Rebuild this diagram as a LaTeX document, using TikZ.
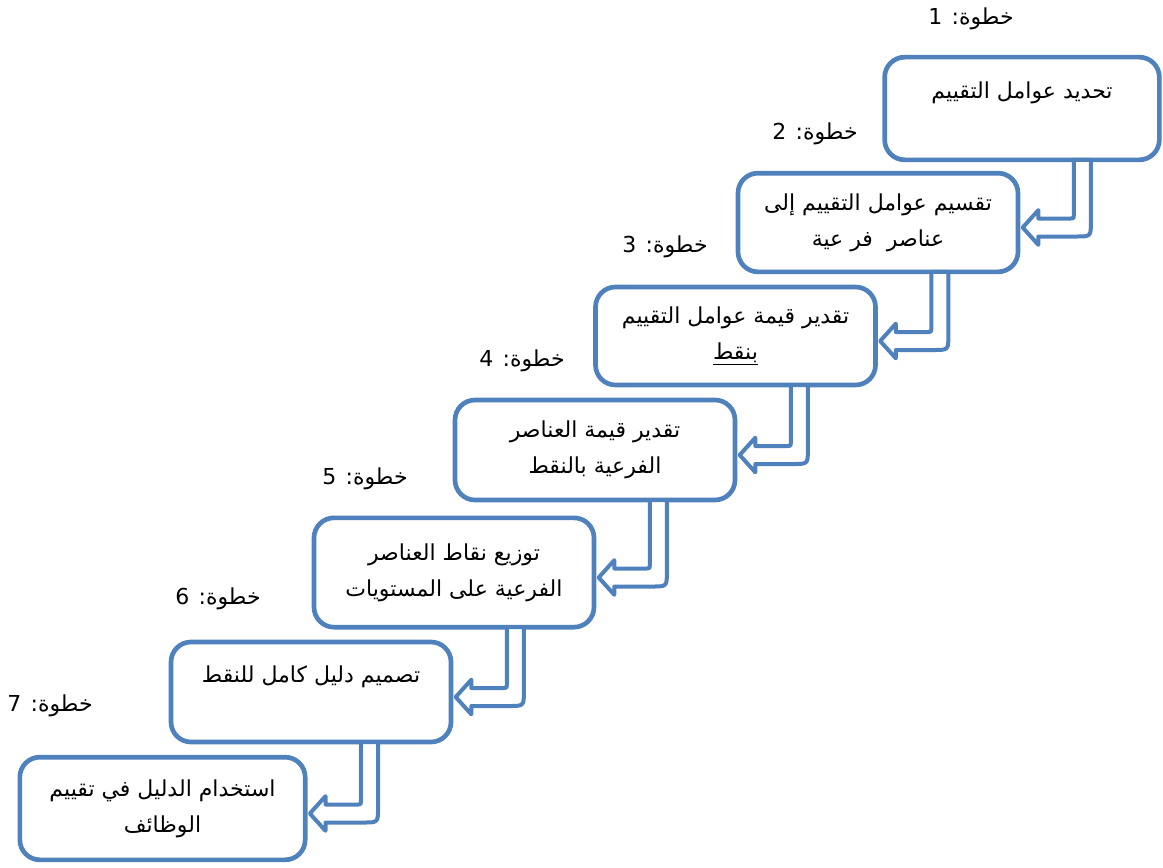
\documentclass[tikz,border=0pt]{standalone}
\usepackage{fontspec}
\usepackage{tikz}
\usetikzlibrary{calc}
\usetikzlibrary{positioning}
\setmainfont{Liberation Sans}
\newfontfamily\arabicfont[Script=Arabic]{DejaVu Sans}
\TeXXeTstate=1
\definecolor{boxblue}{RGB}{79,129,189}
\newcommand{\rtl}[1]{\beginR #1\endR}
% bent arrow from the bottom of one box into the right side of the next
\newcommand{\bentarrow}[2]{%
	\draw[bent] let \p1=(#1.south), \p2=(#2.east), \n1={\y2-3.75pt}, \n2={\x2+46.5pt}, \n3={\y1+1.75pt} in
		(\n2-6.4pt,\n3) -- (\n2-6.4pt,\n1+9pt) .. controls (\n2-6.4pt,\n1+6.75pt) .. (\n2-8.65pt,\n1+6.75pt)
		-- (\x2+13.5pt,\n1+6.75pt) -- (\x2+13.5pt,\n1+13pt) -- (\x2+1.75pt,\n1)
		-- (\x2+13.5pt,\n1-13pt) -- (\x2+13.5pt,\n1-6.75pt)
		-- (\n2-4.6pt,\n1-6.75pt) .. controls (\n2+6.4pt,\n1-6.75pt) .. (\n2+6.4pt,\n1+4.25pt)
		-- (\n2+6.4pt,\n3) -- cycle;
}
\tikzset{
	stepbox/.style = {draw=boxblue, line width=3.5pt, rounded corners=15pt, fill=white,
		minimum width=210pt, align=center, inner sep=0pt,
		font=\arabicfont\fontsize{16.5}{27}\selectfont},
	steplabel/.style = {font=\arabicfont\fontsize{16.5}{18}\selectfont},
	bent/.style = {draw=boxblue, line width=3pt, fill=white, line join=round}
}

\begin{document}
\begin{tikzpicture}
		[x=0.75pt, y=-0.75pt]
		\useasboundingbox (0,0) rectangle (1163,867);

		% boxes
		\node[stepbox, minimum width=206pt, minimum height=77pt] (box1) at (1022,108.5) {\rtl{تحديد عوامل التقييم}\\ \mbox{}};
		\node[stepbox, minimum height=74pt] (box2) at (878,222.5) {\rtl{تقسيم عوامل التقييم إلى}\\ \rtl{عناصر\ \ فر عية}};
		\node[stepbox, minimum height=73.5pt] (box3) at (735.5,336) {\rtl{تقدير قيمة عوامل التقييم}\\ \underline{بنقط}};
		\node[stepbox, minimum height=75pt] (box4) at (595,450) {\rtl{تقدير قيمة العناصر}\\ \rtl{الفرعية بالنقط}};
		\node[stepbox, minimum height=82pt] (box5) at (454,572.5) {\rtl{توزيع نقاط العناصر}\\ \rtl{الفرعية على المستويات}};
		\node[stepbox, minimum height=75pt] (box6) at (311,692) {\rtl{تصميم دليل كامل للنقط}\\ \mbox{}};
		\node[stepbox, minimum width=214pt, minimum height=77pt] (box7) at (162.5,808.5) {\rtl{استخدام الدليل في تقييم}\\ \rtl{الوظائف}};

		% step labels
		\node[steplabel] (lab1) at (971,19) {\rtl{خطوة: 1}};
		\node[steplabel] (lab2) at (815,134) {\rtl{خطوة: 2}};
		\node[steplabel] (lab3) at (665,247) {\rtl{خطوة: 3}};
		\node[steplabel] (lab4) at (522,361) {\rtl{خطوة: 4}};
		\node[steplabel] (lab5) at (365,479) {\rtl{خطوة: 5}};
		\node[steplabel] (lab6) at (218,599) {\rtl{خطوة: 6}};
		\node[steplabel] (lab7) at (50,706) {\rtl{خطوة: 7}};

		% arrows
		\bentarrow{box1}{box2}
		\bentarrow{box2}{box3}
		\bentarrow{box3}{box4}
		\bentarrow{box4}{box5}
		\bentarrow{box5}{box6}
		\bentarrow{box6}{box7}
	\end{tikzpicture}
\end{document}
